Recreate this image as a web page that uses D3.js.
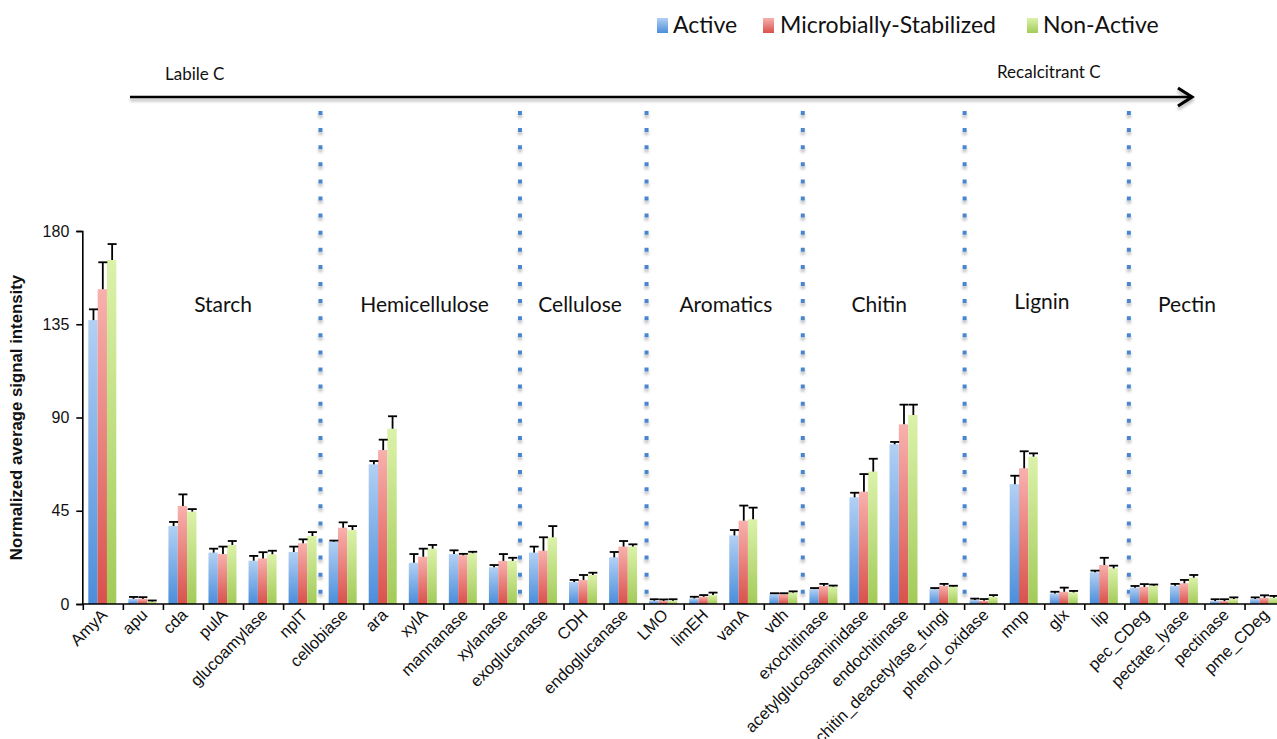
<!DOCTYPE html>
<html>
<head>
<meta charset="utf-8">
<script src="https://cdn.jsdelivr.net/npm/d3@7/dist/d3.min.js"></script>
<style>
  html, body { margin: 0; padding: 0; background: #fff; }
  svg { display: block; }
</style>
</head>
<body>
<svg id="chart" width="1277" height="739"></svg>
<script>
// ---------------- DATA ----------------
const categories = ["AmyA","apu","cda","pulA","glucoamylase","nplT","cellobiase","ara","xylA","mannanase",
  "xylanase","exoglucanase","CDH","endoglucanase","LMO","limEH","vanA","vdh","exochitinase",
  "acetylglucosaminidase","endochitinase","chitin_deacetylase_fungi","phenol_oxidase","mnp","glx",
  "lip","pec_CDeg","pectate_lyase","pectinase","pme_CDeg"];

const seriesNames = ["Active", "Microbially-Stabilized", "Non-Active"];

const activeValues = [137, 2.5, 37.6, 24.8, 20.9, 25.1, 30.1, 67.4, 19.9, 24.1,
  17.7, 24.8, 10.6, 22.5, 1.6, 2.7, 33.1, 4.8, 7.2,
  51.5, 77.1, 7.2, 1.9, 57.8, 5.1, 15.3, 7.9, 8.8, 1.4, 2.4];
const activeErrors = [5.2, 0.9, 2.0, 1.9, 2.3, 2.6, 0.5, 1.6, 4.2, 1.8,
  1.1, 2.9, 1.0, 2.6, 0.7, 0.8, 2.6, 0.4, 0.5,
  2.2, 1.1, 0.5, 0.7, 4.1, 0.8, 0.8, 0.8, 0.9, 0.9, 0.8];

const stabilizedValues = [151.9, 2.5, 47.3, 24.1, 22.0, 29.3, 36.8, 74.3, 22.8, 23.5,
  20.8, 25.7, 11.6, 27.7, 1.5, 3.5, 40.2, 4.8, 8.7,
  54.2, 86.7, 8.8, 1.6, 65.5, 5.9, 18.8, 8.2, 10.0, 1.4, 3.0];
const stabilizedErrors = [13.0, 0.8, 5.6, 3.6, 3.0, 1.9, 2.6, 5.0, 3.9, 0.7,
  3.3, 6.5, 2.4, 2.7, 0.7, 0.8, 7.3, 0.4, 1.0,
  8.5, 9.5, 0.9, 0.8, 8.2, 2.0, 3.5, 1.4, 1.6, 0.9, 1.2];

const nonActiveValues = [166, 1.2, 44.6, 28.5, 24.0, 32.8, 35.7, 84.6, 26.7, 24.5,
  20.8, 32.2, 14.0, 27.7, 1.6, 4.3, 40.9, 5.5, 8.4,
  63.9, 91.2, 8.4, 3.5, 71.1, 5.6, 17.2, 8.8, 12.7, 2.4, 3.0];
const nonActiveErrors = [7.7, 0.5, 1.2, 1.9, 1.7, 1.9, 1.9, 6.0, 1.8, 0.7,
  1.5, 5.4, 1.1, 1.1, 0.7, 1.2, 5.6, 0.6, 0.5,
  6.2, 5.0, 0.4, 0.8, 1.6, 0.7, 1.3, 0.6, 1.3, 0.8, 0.9];

const yTickValues = [0, 45, 90, 135, 180];
const yAxisTitle = "Normalized average signal intensity";

// group annotations (position in category units)
const groupNames = ["Starch", "Hemicellulose", "Cellulose", "Aromatics", "Chitin", "Lignin", "Pectin"];
const groupCenters = [3.49, 8.52, 12.4, 16.04, 19.87, 23.93, 27.55];
const separatorPositions = [5.92, 10.9, 14.06, 17.96, 22.0, 26.1];

// ---------------- LAYOUT ----------------
const svg = d3.select("#chart");
const W = 1277, H = 739;
const left = 83.3, step = 40.06;
const y0 = 604, yTop = 231;

const x = d3.scaleBand().domain(categories).range([left, left + step * categories.length]).padding(0);
const xPos = d3.scaleLinear().domain([0, categories.length]).range([left, left + step * categories.length]);
const xInner = d3.scaleBand().domain(seriesNames).range([5, 33]).padding(0);
const y = d3.scaleLinear().domain([0, 180]).range([y0, yTop]);

const seriesData = [
  { name: "Active", values: activeValues, errors: activeErrors, grad: "gBlue" },
  { name: "Microbially-Stabilized", values: stabilizedValues, errors: stabilizedErrors, grad: "gRed" },
  { name: "Non-Active", values: nonActiveValues, errors: nonActiveErrors, grad: "gGreen" }
];

// ---------------- DEFS ----------------
const defs = svg.append("defs");
const gradSpecs = [
  { id: "gBlue", top: "#b2d0f4", bottom: "#4b8ddb" },
  { id: "gRed", top: "#f8b1ad", bottom: "#d9514c" },
  { id: "gGreen", top: "#dbf2a9", bottom: "#a2cb58" }
];
gradSpecs.forEach(g => {
  const lg = defs.append("linearGradient").attr("id", g.id)
    .attr("x1", 0).attr("y1", 0).attr("x2", 0).attr("y2", 1);
  lg.append("stop").attr("offset", "0%").attr("stop-color", g.top);
  lg.append("stop").attr("offset", "100%").attr("stop-color", g.bottom);
});
const shadow = defs.append("filter").attr("id", "shadow")
  .attr("x", "-10%").attr("y", "-50%").attr("width", "120%").attr("height", "300%");
shadow.append("feDropShadow").attr("dx", 0).attr("dy", 3).attr("stdDeviation", 1.6)
  .attr("flood-color", "#000").attr("flood-opacity", 0.28);

// ---------------- LEGEND ----------------
const legendItems = [
  { label: "Active", grad: "gBlue", sx: 657, tx: 673 },
  { label: "Microbially-Stabilized", grad: "gRed", sx: 763, tx: 780 },
  { label: "Non-Active", grad: "gGreen", sx: 1027, tx: 1043 }
];
const legend = svg.append("g");
legendItems.forEach(it => {
  legend.append("rect").attr("x", it.sx).attr("y", 18).attr("width", 11).attr("height", 15)
    .attr("fill", `url(#${it.grad})`);
  legend.append("text").attr("x", it.tx).attr("y", 33)
    .attr("font-family", "Lato, 'Open Sans', sans-serif").attr("font-size", 23)
    .attr("fill", "#111").text(it.label);
});

// ---------------- ARROW ----------------
const arrow = svg.append("g").attr("filter", "url(#shadow)");
arrow.append("line").attr("x1", 130).attr("x2", 1190).attr("y1", 97).attr("y2", 97)
  .attr("stroke", "#000").attr("stroke-width", 2.6);
arrow.append("path").attr("d", "M1178,88 L1192,97 L1178,106")
  .attr("fill", "none").attr("stroke", "#000").attr("stroke-width", 3.2)
  .attr("stroke-linejoin", "miter");
svg.append("text").attr("x", 165).attr("y", 80)
  .attr("font-family", "Lato, 'Open Sans', sans-serif").attr("font-size", 17).attr("fill", "#111")
  .text("Labile C");
svg.append("text").attr("x", 997).attr("y", 78)
  .attr("font-family", "Lato, 'Open Sans', sans-serif").attr("font-size", 17).attr("fill", "#111")
  .text("Recalcitrant C");

// ---------------- SEPARATORS ----------------
const sepG = svg.append("g").attr("filter", "url(#shadow)");
separatorPositions.forEach(p => {
  sepG.append("line")
    .attr("x1", xPos(p)).attr("x2", xPos(p))
    .attr("y1", 111).attr("y2", 596)
    .attr("stroke", "#4a86cf").attr("stroke-width", 4)
    .attr("stroke-dasharray", "4 13.1");
});

// ---------------- GROUP LABELS ----------------
svg.append("g").selectAll("text").data(groupNames).join("text")
  .attr("x", (d, i) => xPos(groupCenters[i]))
  .attr("y", (d, i) => d === "Lignin" ? 309 : 312)
  .attr("text-anchor", "middle")
  .attr("font-family", "Lato, 'Open Sans', sans-serif").attr("font-size", 21)
  .attr("fill", "#111").text(d => d);

// ---------------- BARS ----------------
const groups = svg.append("g").selectAll("g").data(categories).join("g")
  .attr("transform", d => `translate(${x(d)},0)`);

seriesData.forEach(s => {
  groups.append("rect")
    .attr("x", xInner(s.name))
    .attr("width", xInner.bandwidth())
    .attr("y", (d, i) => y(s.values[i]))
    .attr("height", (d, i) => y0 - y(s.values[i]))
    .attr("fill", `url(#${s.grad})`);
});
seriesData.forEach(s => {
  const cx = xInner(s.name) + xInner.bandwidth() / 2 + 0.5;
  groups.append("line")
    .attr("x1", cx).attr("x2", cx)
    .attr("y1", (d, i) => y(s.values[i]))
    .attr("y2", (d, i) => y(s.values[i] + s.errors[i]))
    .attr("stroke", "#000").attr("stroke-width", 1.8);
  groups.append("line")
    .attr("x1", cx - 4.5).attr("x2", cx + 4.5)
    .attr("y1", (d, i) => y(s.values[i] + s.errors[i]))
    .attr("y2", (d, i) => y(s.values[i] + s.errors[i]))
    .attr("stroke", "#000").attr("stroke-width", 1.8);
});

// ---------------- AXES ----------------
const yAxis = svg.append("g").attr("transform", `translate(${left - 1},0)`)
  .call(d3.axisLeft(y).tickValues(yTickValues).tickSize(6).tickPadding(7));
yAxis.select(".domain").attr("stroke", "#000").attr("stroke-width", 1.6);
yAxis.selectAll(".tick line").attr("stroke", "#000").attr("stroke-width", 1.6);
yAxis.selectAll(".tick text").attr("font-family", "'Liberation Sans', Arial, sans-serif")
  .attr("font-size", 16).attr("fill", "#111");

// x axis baseline
svg.append("line").attr("x1", left - 1).attr("x2", W).attr("y1", y0).attr("y2", y0)
  .attr("stroke", "#000").attr("stroke-width", 1.6);
// tick marks at category boundaries
svg.append("g").selectAll("line").data(d3.range(categories.length + 1)).join("line")
  .attr("x1", i => xPos(i)).attr("x2", i => xPos(i))
  .attr("y1", y0).attr("y2", y0 + 6)
  .attr("stroke", "#000").attr("stroke-width", 1.6);
// x labels
svg.append("g").selectAll("text").data(categories).join("text")
  .attr("transform", d => `translate(${x(d) + x.bandwidth() / 2 + 5},${y0 + 12}) rotate(-45)`)
  .attr("text-anchor", "end")
  .attr("font-family", "'Liberation Sans', Arial, sans-serif")
  .attr("font-size", 16.5).attr("fill", "#111")
  .text(d => d);

// y axis title
svg.append("text")
  .attr("transform", `translate(22,${(yTop + y0) / 2}) rotate(-90)`)
  .attr("text-anchor", "middle")
  .attr("font-family", "'Liberation Sans', Arial, sans-serif")
  .attr("font-weight", "bold").attr("font-size", 16.8).attr("fill", "#111")
  .text(yAxisTitle);
</script>
</body>
</html>
